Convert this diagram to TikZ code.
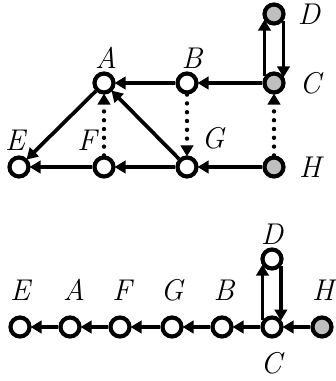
\documentclass[tikz,border=0pt]{standalone}
\usetikzlibrary{arrows.meta}
\begin{document}
\begin{tikzpicture}[x=1pt,y=-1pt,
  vtx/.style={circle,draw,line width=4.2pt,minimum size=19pt,inner sep=0pt,fill=white},
  gvtx/.style={vtx,fill=black!25},
  lab/.style={font=\fontsize{30}{34}\selectfont\itshape,inner sep=0pt,anchor=base},
  edge/.style={line width=3.7pt,-{Triangle[length=11pt,width=12.5pt]},shorten >=-1pt},
  dotedge/.style={edge,line width=4.4pt,line cap=round,dash pattern=on 0pt off 8.8pt}]
\useasboundingbox (0,0) rectangle (336,381);
% top graph
\node[vtx] (A) at (104,83) {};
\node[vtx] (B) at (187,83) {};
\node[gvtx] (C) at (274,83) {};
\node[gvtx] (D) at (274,14) {};
\node[vtx] (E) at (19,167) {};
\node[vtx] (F) at (104,167) {};
\node[vtx] (G) at (187,167) {};
\node[gvtx] (H) at (274,167) {};
\node[lab] (lA) at (106,68) {A};
\node[lab] (lB) at (192,68) {B};
\node[lab] (lC) at (310,93) {C};
\node[lab] (lD) at (309,24) {D};
\node[lab] (lE) at (15,150) {E};
\node[lab] (lF) at (87,150) {F};
\node[lab] (lG) at (213,148) {G};
\node[lab] (lH) at (310,177) {H};
\draw[edge] (C) -- (B);
\draw[edge] (B) -- (A);
\draw[edge] (A) -- (E);
\draw[edge] (G) -- (A);
\draw[edge] (G) -- (F);
\draw[edge] (F) -- (E);
\draw[edge] (H) -- (G);
\draw[dotedge] (B) -- (G);
\draw[dotedge] (F) -- (A);
\draw[dotedge] (H) -- (C);
\draw[edge] (C.145) -- (D.215);
\draw[edge] (D.325) -- (C.35);
% bottom graph
\node[vtx] (E2) at (20,327) {};
\node[vtx] (A2) at (70,327) {};
\node[vtx] (F2) at (120,327) {};
\node[vtx] (G2) at (172,327) {};
\node[vtx] (B2) at (222,327) {};
\node[vtx] (C2) at (272,327) {};
\node[gvtx] (H2) at (322,327) {};
\node[vtx] (D2) at (272,259) {};
\node[lab] (lE2) at (20,300) {E};
\node[lab] (lA2) at (74,300) {A};
\node[lab] (lF2) at (122,300) {F};
\node[lab] (lG2) at (172,300) {G};
\node[lab] (lB2) at (224,300) {B};
\node[lab] (lH2) at (323,300) {H};
\node[lab] (lD2) at (272,244) {D};
\node[lab] (lC2) at (271,373) {C};
\draw[edge] (H2) -- (C2);
\draw[edge] (C2) -- (B2);
\draw[edge] (B2) -- (G2);
\draw[edge] (G2) -- (F2);
\draw[edge] (F2) -- (A2);
\draw[edge] (A2) -- (E2);
\draw[edge] (C2.145) -- (D2.215);
\draw[edge] (D2.320) -- (C2.40);
\end{tikzpicture}
\end{document}
